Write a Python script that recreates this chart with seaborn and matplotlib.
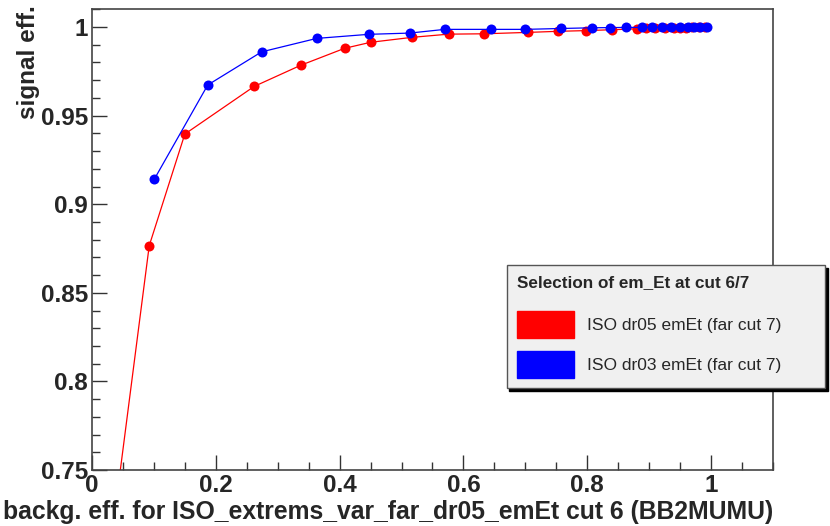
import matplotlib
matplotlib.use("Agg")
import matplotlib.pyplot as plt
import matplotlib.patches as mpatches
from matplotlib.ticker import MultipleLocator
import seaborn as sns
import pandas as pd

# ISO dr05 emEt (far cut 7)
dr05_x = [0.020, 0.0925, 0.150, 0.262, 0.337, 0.408, 0.450, 0.517, 0.576, 0.633,
          0.705, 0.753, 0.798, 0.84, 0.881, 0.895, 0.91, 0.925, 0.94, 0.95,
          0.96, 0.97, 0.98, 0.99]
dr05_y = [0.680, 0.8766, 0.9396, 0.9665, 0.9784, 0.988, 0.9914, 0.9942, 0.996, 0.9962,
          0.997, 0.9976, 0.998, 0.9985, 0.999, 0.9992, 0.9993, 0.9994, 0.9995, 0.9996,
          0.9997, 0.9998, 0.9999, 1.0]

# ISO dr03 emEt (far cut 7)
dr03_x = [0.1005, 0.187, 0.274, 0.363, 0.447, 0.513, 0.570, 0.645, 0.700, 0.758,
          0.808, 0.837, 0.863, 0.889, 0.905, 0.92, 0.935, 0.95, 0.962, 0.972,
          0.982, 0.994]
dr03_y = [0.914, 0.9673, 0.986, 0.9936, 0.9959, 0.9966, 0.9987, 0.9987, 0.9987, 0.9992,
          0.9996, 0.9997, 0.9998, 0.9998, 0.9999, 0.9999, 0.9999, 1.0, 1.0, 1.0,
          1.0, 1.0]

labels = ["ISO dr05 emEt (far cut 7)", "ISO dr03 emEt (far cut 7)"]
colors = ["#ff0000", "#0000ff"]

df = pd.concat([
    pd.DataFrame({"x": dr05_x, "y": dr05_y, "series": labels[0]}),
    pd.DataFrame({"x": dr03_x, "y": dr03_y, "series": labels[1]}),
])

sns.set_style("white")
plt.rcParams["font.family"] = ["Liberation Sans", "DejaVu Sans"]

fig = plt.figure(figsize=(8.3, 5.26), dpi=100)
ax = fig.add_axes([0.1108, 0.1065, 0.8205, 0.8764])

for lab, col in zip(labels, colors):
    sub = df[df["series"] == lab]
    sns.lineplot(data=sub, x="x", y="y", ax=ax, color=col, linewidth=0.9,
                 marker="o", markersize=7.2, markeredgewidth=0,
                 sort=False, estimator=None, legend=False)

ax.set_xlim(0, 1.1)
ax.set_ylim(0.75, 1.0102)
ax.xaxis.set_minor_locator(MultipleLocator(0.05))
ax.yaxis.set_minor_locator(MultipleLocator(0.01))
ax.set_xticks([0, 0.2, 0.4, 0.6, 0.8, 1.0])
ax.set_xticklabels(["0", "0.2", "0.4", "0.6", "0.8", "1"])
ax.set_yticks([0.75, 0.8, 0.85, 0.9, 0.95, 1.0])
ax.set_yticklabels(["0.75", "0.8", "0.85", "0.9", "0.95", "1"])
ax.tick_params(which="both", direction="in", top=False, right=False,
               bottom=True, left=True, labelsize=17.5, color="#333333")
ax.tick_params(which="major", length=11, width=1, pad=3)
ax.tick_params(which="minor", length=6, width=1)
for lbl in ax.get_xticklabels() + ax.get_yticklabels():
    lbl.set_fontweight("bold")
for s in ax.spines.values():
    s.set_color("#444444")
    s.set_linewidth(1.2)

ax.set_xlabel("backg. eff. for ISO_extrems_var_far_dr05_emEt cut 6 (BB2MUMU)",
              fontsize=17.8, fontweight="bold", loc="right", labelpad=2)
ax.set_ylabel("signal eff.", fontsize=17.5, fontweight="bold", loc="top")
ax.yaxis.set_label_coords(-0.076, 1.009)

# legend box spans x 507..826, y 265..386 px in the reference
handles = [mpatches.Patch(facecolor=c, edgecolor=c, label=l) for c, l in zip(colors, labels)]
leg = ax.legend(handles=handles, title="Selection of em_Et at cut 6/7",
                loc="upper left", bbox_to_anchor=(0.609, 0.445 - 0.26, 0.468, 0.26),
                mode="expand", borderaxespad=0, fontsize=12.5,
                title_fontproperties={"weight": "bold", "size": 12.3},
                frameon=True, fancybox=False,
                shadow={"color": "black", "alpha": 1, "ox": 2, "oy": -2},
                facecolor="#f0f0f0", edgecolor="#555555", framealpha=1,
                handlelength=3.3, handleheight=2.0, handletextpad=0.7,
                labelspacing=0.75, borderpad=0.6, alignment="left")
leg._legend_box.sep = 15  # extra room under the title
leg.get_frame().set_linewidth(1.0)
leg.set_clip_on(False)

fig.savefig("out.png", dpi=100, facecolor="white")
